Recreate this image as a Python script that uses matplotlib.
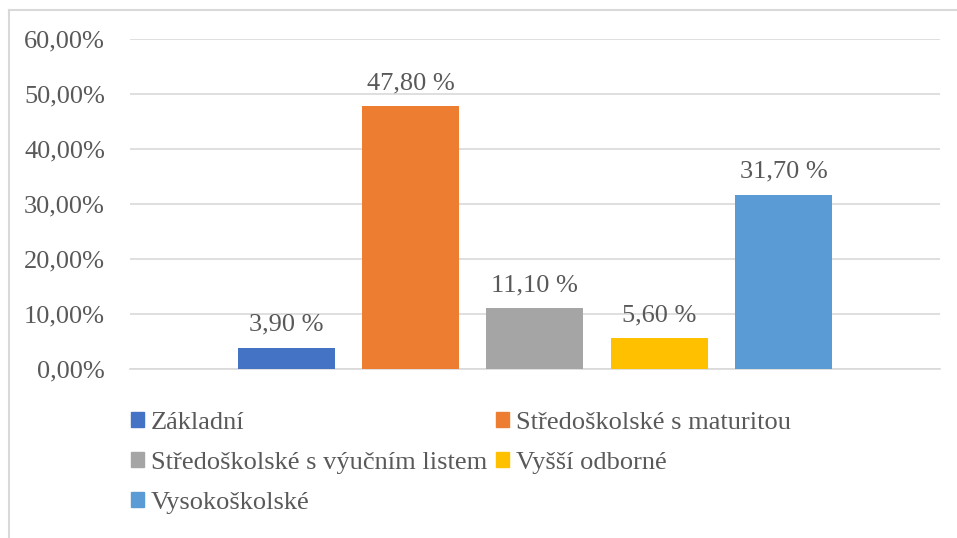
import matplotlib
matplotlib.use('Agg')
import matplotlib.pyplot as plt
import matplotlib.patches as mpatches
from matplotlib.lines import Line2D

plt.rcParams['font.family'] = ['Liberation Serif', 'DejaVu Serif']

categories = ['Základní', 'Středoškolské s maturitou', 'Středoškolské s výučním listem',
              'Vyšší odborné', 'Vysokoškolské']
values = [3.90, 47.80, 11.10, 5.60, 31.70]
colors = ['#4472C4', '#ED7D31', '#A5A5A5', '#FFC000', '#5B9BD5']
yticks = [0, 10, 20, 30, 40, 50, 60]

W, H = 957, 538
fig = plt.figure(figsize=(W / 100, H / 100), dpi=100)
fig.patch.set_facecolor('white')

# plot area in pixel coords
ax = fig.add_axes([130 / W, 1 - 369 / H, (940 - 130) / W, (369 - 39) / H])

grey = '#595959'
grid = '#d9d9d9'
fs = 19

xs = list(range(len(values)))
bars = ax.bar(xs, values, width=0.78, color=colors, zorder=3)
labels = [f'{v:.2f} %'.replace('.', ',') for v in values]
ax.bar_label(bars, labels=labels, padding=8.5, fontsize=fs, color=grey)

ax.set_xlim(-1.255, 4 + 1.259)
ax.set_ylim(0, 60)
ax.set_yticks(yticks)
ax.set_yticklabels([f'{t:.2f}%'.replace('.', ',') for t in yticks])
ax.tick_params(axis='y', length=0, pad=18, labelsize=fs, labelcolor=grey)
ax.set_xticks([])
ax.grid(axis='y', color=grid, lw=1.2, zorder=0)
for s in ['left', 'right', 'top']:
    ax.spines[s].set_visible(False)
ax.spines['bottom'].set_color(grid)
ax.spines['bottom'].set_linewidth(1.2)

# legend: row-major order like Excel -> reorder for matplotlib's column filling
order = [0, 2, 4, 1, 3]
handles = [mpatches.Patch(color=colors[i]) for i in order]
leg = fig.legend(handles, [categories[i] for i in order], ncol=2,
                 loc='upper left', bbox_to_anchor=(131 / W, 1 - 412 / H),
                 frameon=False, fontsize=fs, handlelength=0.5, handleheight=0.5,
                 handletextpad=0.25, columnspacing=0.35, labelspacing=0.68,
                 borderpad=0, borderaxespad=0)
for t in leg.get_texts():
    t.set_color(grey)

# chart border (bottom/right are cut off in the reference)
fig.add_artist(Line2D([9 / W, 1], [1 - 10 / H, 1 - 10 / H], color=grid, lw=1.5))
fig.add_artist(Line2D([9 / W, 9 / W], [0, 1 - 10 / H], color=grid, lw=1.5))

fig.savefig('out.png', dpi=100, facecolor='white')
